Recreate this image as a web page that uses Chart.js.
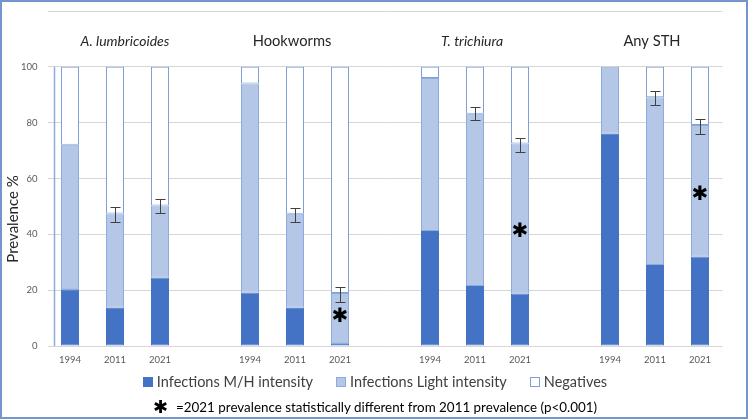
<!DOCTYPE html>
<html>
<head>
<meta charset="utf-8">
<script src="https://cdn.jsdelivr.net/npm/chart.js@4.4.0/dist/chart.umd.min.js"></script>
<style>
  html, body { margin: 0; padding: 0; background: #fff; }
  #wrap { position: relative; width: 750px; height: 420px; overflow: hidden; }
  #frame { position: absolute; left: 0; top: 0; width: 748px; height: 419px; box-sizing: border-box;
           border: 2px solid #7394cc; pointer-events: none; }
  #legend { position: absolute; left: 0; width: 750px; top: 373px; display: flex; justify-content: center;
            gap: 23px; font-family: Lato, sans-serif; font-size: 14.5px; color: #404040; padding-left: 0; }
  #legend .item { display: flex; align-items: center; }
  #legend .box { width: 10px; height: 10px; margin-right: 4px; box-sizing: border-box; border: 1px solid; }
  #note { position: absolute; left: 0; width: 750px; top: 396px; display: flex; justify-content: center;
          align-items: center; font-family: Lato, sans-serif; font-size: 13.4px; color: #000; }
  #note .star { font-family: "DejaVu Sans", sans-serif; font-size: 18px; font-weight: bold; margin-right: 8px; }
</style>
</head>
<body>
<div id="wrap">
  <canvas id="stChart" width="750" height="420"></canvas>
  <div id="legend"></div>
  <div id="note"><span class="star">✱</span><span>=2021 prevalence statistically different from 2011 prevalence (p&lt;0.001)</span></div>
  <div id="frame"></div>
</div>
<script>
// x categories: three survey years per parasite, with a blank slot between groups
const years = ['1994', '2011', '2021', '', '1994', '2011', '2021', '', '1994', '2011', '2021', '', '1994', '2011', '2021'];
const groupTitles = ['A. lumbricoides', 'Hookworms', 'T. trichiura', 'Any STH'];
const groupItalic = [true, false, true, false];
const groupCenters = [1, 5, 9, 13];

// prevalence % (stacked)
const heavyInf = [20.3, 13.7, 24.5, null, 19.2, 13.7, 1.0, null, 41.2, 21.5, 18.8, null, 76.0, 29.0, 32.1];
const lightInf = [51.8, 33.8, 25.8, null, 74.8, 33.7, 18.0, null, 54.8, 61.7, 53.7, null, 24.0, 60.1, 47.1];
const negatives = [27.9, 52.5, 49.7, null, 6.0, 52.6, 81.0, null, 4.0, 16.8, 27.5, null, 0.0, 10.9, 20.8];

// 95% CI of total prevalence
const ciLow = [null, 44.4, 47.6, null, null, 44.4, 15.7, null, null, 80.8, 69.6, null, null, 86.2, 76.0];
const ciHigh = [null, 49.8, 52.8, null, null, 49.3, 21.0, null, null, 85.6, 74.6, null, null, 91.5, 81.3];

// significance markers (y position in %)
const starAt = [null, null, null, null, null, null, 10.5, null, null, null, 41, null, null, null, 54];

const yTicks = [0, 20, 40, 60, 80, 100];

const seriesNames = ['Infections M/H intensity', 'Infections Light intensity', 'Negatives'];
const seriesFill = ['#4472C4', '#B4C7E7', '#FFFFFF'];
const seriesLine = ['#4472C4', '#8FAADC', '#7F9FD8'];

// extras drawn on top of the bars
const extrasPlugin = {
    id: 'extras',
    afterDatasetsDraw(chart) {
        const ctx = chart.ctx;
        const xs = chart.scales.x, ys = chart.scales.y;
        const area = chart.chartArea;
        ctx.save();

        // blue axis line near the left edge
        ctx.strokeStyle = '#8FAADC';
        ctx.lineWidth = 1.5;
        ctx.beginPath();
        ctx.moveTo(area.left + 7, ys.getPixelForValue(100));
        ctx.lineTo(area.left + 7, ys.getPixelForValue(0));
        ctx.stroke();

        // error bars
        ctx.strokeStyle = '#404040';
        ctx.lineWidth = 1;
        ciLow.forEach((lo, i) => {
            if (lo === null) return;
            const x = Math.round(xs.getPixelForValue(i)) + 0.5;
            const y1 = Math.round(ys.getPixelForValue(lo)) + 0.5;
            const y2 = Math.round(ys.getPixelForValue(ciHigh[i])) + 0.5;
            ctx.beginPath();
            ctx.moveTo(x, y1); ctx.lineTo(x, y2);
            ctx.moveTo(x - 5, y1); ctx.lineTo(x + 5, y1);
            ctx.moveTo(x - 5, y2); ctx.lineTo(x + 5, y2);
            ctx.stroke();
        });

        // asterisks
        ctx.fillStyle = '#000';
        ctx.font = 'bold 20px "DejaVu Sans"';
        ctx.textAlign = 'center';
        ctx.textBaseline = 'middle';
        starAt.forEach((v, i) => {
            if (v === null) return;
            ctx.fillText('✱', xs.getPixelForValue(i), ys.getPixelForValue(v));
        });

        // group titles
        ctx.fillStyle = '#262626';
        groupTitles.forEach((t, g) => {
            ctx.font = (groupItalic[g] ? 'italic 14px Lato' : '14.7px Lato');
            ctx.fillText(t, xs.getPixelForValue(groupCenters[g]) + (g === 0 ? 10 : -3), ys.getPixelForValue(109));
        });

        // y axis title
        ctx.font = '15px Lato';
        ctx.fillStyle = '#262626';
        ctx.translate(13, ys.getPixelForValue(45.5));
        ctx.rotate(-Math.PI / 2);
        ctx.fillText('Prevalence %', 0, 0);
        ctx.restore();
    }
};

function initChart() {
    const ctx = document.getElementById('stChart').getContext('2d');
    const sets = [heavyInf, lightInf, negatives].map((d, k) => ({
        label: seriesNames[k],
        data: d,
        backgroundColor: seriesFill[k],
        borderColor: seriesLine[k],
        borderWidth: 1,
        borderSkipped: false,
        barPercentage: 0.4,
        categoryPercentage: 1.0
    }));
    new Chart(ctx, {
        type: 'bar',
        data: { labels: years, datasets: sets },
        plugins: [extrasPlugin],
        options: {
            responsive: false,
            animation: false,
            layout: { padding: { left: 0, top: 11, right: 27.5, bottom: 0 } },
            plugins: { legend: { display: false }, tooltip: { enabled: false } },
            scales: {
                x: {
                    stacked: true,
                    grid: { display: false },
                    border: { display: false },
                    ticks: { color: '#595959', font: { family: 'Lato', size: 9.5 }, padding: 0,
                             maxRotation: 0, autoSkip: false },
                    afterFit: s => { s.height = 74; }
                },
                y: {
                    stacked: true,
                    min: 0,
                    max: 120,
                    grid: { color: '#D6D6D6', lineWidth: 1, drawTicks: false },
                    border: { display: false },
                    ticks: {
                        stepSize: 20,
                        color: '#595959',
                        font: { family: 'Lato', size: 9.5 },
                        padding: 10,
                        callback: v => yTicks.includes(v) ? v : ''
                    },
                    afterFit: s => { s.width = 47.5; s.paddingTop = 0; s.paddingBottom = 0; }
                }
            }
        }
    });

    // legend built from the series
    const lg = document.getElementById('legend');
    seriesNames.forEach((n, k) => {
        const it = document.createElement('div');
        it.className = 'item';
        it.innerHTML = '<span class="box" style="background:' + seriesFill[k] + ';border-color:' +
            seriesLine[k] + '"></span><span>' + n + '</span>';
        lg.appendChild(it);
    });
}

document.addEventListener('DOMContentLoaded', initChart);
</script>
</body>
</html>
